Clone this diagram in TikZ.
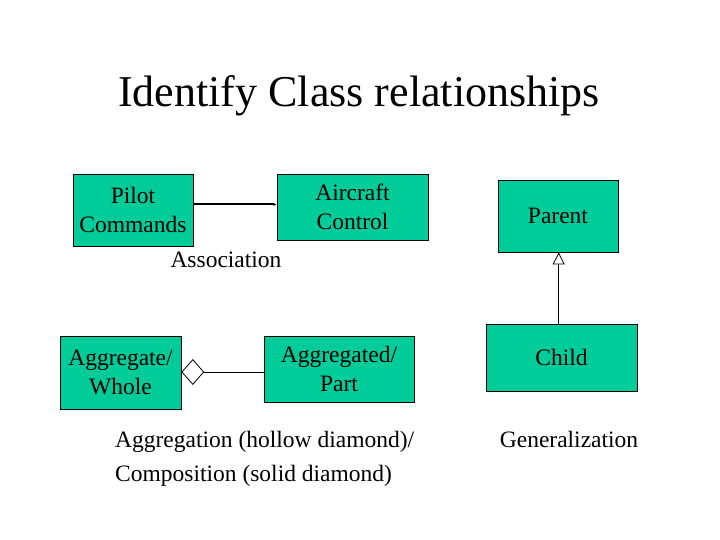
\documentclass[tikz,border=0pt]{standalone}
\usepackage{fontspec}
\setmainfont{Liberation Serif}
\usetikzlibrary{arrows.meta,shapes.geometric}
\definecolor{boxgreen}{HTML}{00CC99}
\tikzset{
  cls/.style={draw=black, fill=boxgreen, line width=0.8pt, inner sep=0pt, align=center, font=\fontsize{23.5}{29}\selectfont},
  lbl/.style={inner sep=0pt, font=\fontsize{23.5}{34}\selectfont}
}
\begin{document}
\begin{tikzpicture}[x=1pt,y=-1pt]
\useasboundingbox (0,0) rectangle (720,540);
\fill[white] (0,0) rectangle (720,540);
\node[inner sep=0pt, font=\fontsize{44}{52}\selectfont] (title) at (359,96) {Identify Class relationships};
% association
\node[cls, minimum width=120pt, minimum height=72pt] (pilot) at (133,210) {Pilot\\Commands};
\node[cls, minimum width=151pt, minimum height=66pt] (aircraft) at (352.5,207) {Aircraft\\Control};
\draw[line width=2pt, -{Latex[length=3pt,width=3pt]}] (pilot.east |- 0,204.5) coordinate (a1) -- (aircraft.west |- a1);
\node[lbl] (assoc) at (226,260) {Association};
% generalization
\node[cls, minimum width=120pt, minimum height=72pt] (parent) at (558,216) {Parent};
\node[cls, minimum width=151pt, minimum height=67pt] (child) at (561.5,357.5) {Child};
\draw[line width=0.8pt, -{Triangle[open,length=12pt,width=12pt]}] (child.north -| 558.7,0) coordinate (g1) -- (parent.south -| g1);
\node[lbl] (gen) at (569,439) {Generalization};
% aggregation
\node[cls, minimum width=121pt, minimum height=73pt] (whole) at (120.5,372.5) {Aggregate/\\Whole};
\node[cls, minimum width=150pt, minimum height=66pt] (part) at (339,369) {Aggregated/\\Part};
\node[diamond, draw=black, fill=white, line width=0.8pt, minimum width=22pt, minimum height=25pt, inner sep=0pt, anchor=west] (dia) at (whole.east |- 0,372) {};
\draw[line width=0.8pt] (dia.east) -- (part.west |- dia.east);
\node[lbl, align=left, anchor=west] (aggtxt) at (115,459) {Aggregation (hollow diamond)/\\Composition (solid diamond)};
\end{tikzpicture}
\end{document}
